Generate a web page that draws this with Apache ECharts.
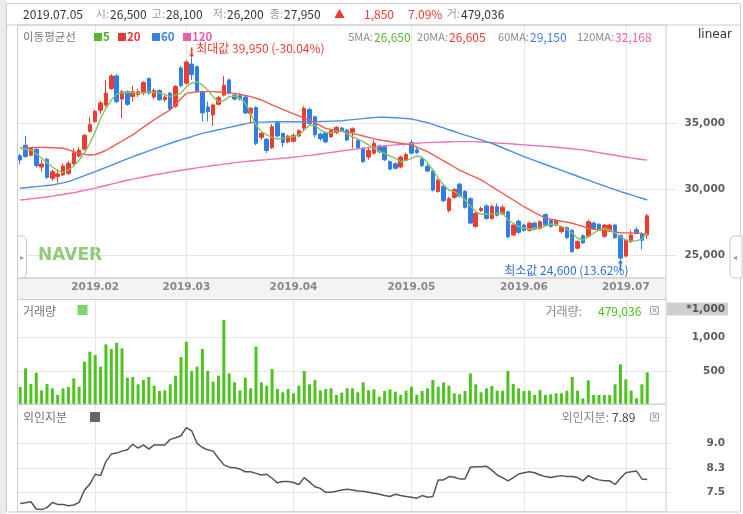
<!DOCTYPE html>
<html><head><meta charset="utf-8">
<script src="https://cdn.jsdelivr.net/npm/echarts@6/dist/echarts.min.js"></script>
<style>html,body{margin:0;padding:0;background:#fff}#c{width:743px;height:514px}</style>
</head><body><div id="c"></div>
<script>
// ---------------- DATA ----------------
const monthDays = [
  ['2019.01',[14,15,16,17,18,21,22,23,24,25,28,29,30,31]],
  ['2019.02',[1,7,8,11,12,13,14,15,18,19,20,21,22,25,26,27,28]],
  ['2019.03',[4,5,6,7,8,11,12,13,14,15,18,19,20,21,22,25,26,27,28,29]],
  ['2019.04',[1,2,3,4,5,8,9,10,11,12,15,16,17,18,19,22,23,24,25,26,29,30]],
  ['2019.05',[2,3,7,8,9,10,13,14,15,16,17,20,21,22,23,24,27,28,29,30,31]],
  ['2019.06',[3,4,5,7,10,11,12,13,14,17,18,19,20,21,24,25,26,27,28]],
  ['2019.07',[1,2,3,4,5]]
];
const monthLabels = ['2019.02','2019.03','2019.04','2019.05','2019.06','2019.07'];

const opens = [32500,33300,32550,33000,31650,32230,30800,30920,31050,31170,
 31900,32480,33000,34350,35100,35950,36350,37600,38550,36800,
 37350,37000,37150,37250,38350,36950,37450,36750,37250,36250,
 39150,38000,39450,39250,37350,36200,35600,36400,37100,38250,
 37100,37050,36950,35720,36150,33900,33750,33100,35000,34200,
 33550,33600,34000,34600,36000,35450,34150,34250,33950,34250,
 34600,34450,34300,33650,33050,32400,32700,33250,33200,32050,
 31900,31650,32200,33500,32950,32250,31700,31350,29800,30200,
 28350,29350,30350,29800,29250,27150,28350,28700,27750,28650,
 28100,28250,26500,27550,27250,26850,27400,27000,28050,27600,
 27250,26750,27050,26850,25500,26450,26400,27400,27300,26400,
 26900,27250,26450,24900,26000,26900,26600,26500];
const closes = [32180,32450,33050,31750,31880,30870,31300,31120,31730,31930,
 32730,32940,34050,34850,35850,36500,37250,38550,36600,37350,
 36400,37350,37350,38050,37250,37450,36750,36950,36050,37750,
 37800,39600,38650,37400,35750,35850,36350,36900,37850,37250,
 36800,36800,35750,36100,33450,34200,32900,34700,34000,33500,
 34000,34050,34400,36100,34950,34100,33800,33550,34400,34650,
 34400,33700,34550,33100,32050,32900,33450,32800,32200,31500,
 31550,32400,32600,32700,32750,31750,31350,29900,30650,29100,
 29250,29950,29450,28600,27400,28150,28500,27750,28650,28000,
 28600,26350,27250,26700,26850,27400,26950,27500,27250,27150,
 27600,27100,26300,25250,26000,25900,27500,27000,26900,27250,
 27250,26300,24750,26100,26500,26600,26100,27950];
const lows = [31880,32350,32450,31600,31300,30750,30600,30460,30950,31050,
 31800,32350,32900,34250,35000,35650,36200,37500,36500,35350,
 36300,36600,36950,37100,37150,36800,36650,36600,35900,36150,
 37700,37900,38250,37300,35100,35100,34750,36300,37000,37150,
 36700,36700,35650,35000,33300,33700,32700,33000,33900,33150,
 33450,33500,33900,34450,34850,33900,33650,33450,33850,34150,
 34300,33600,33050,33000,31950,32200,32600,32700,32100,31400,
 31450,31550,32100,32600,32650,31650,31250,29800,29700,29000,
 28200,29250,29350,28500,27300,27050,28250,27650,27650,27900,
 28000,26250,26400,26600,26750,26750,26850,26900,27150,27050,
 27150,26650,26200,25150,25400,25800,26300,26900,26800,26300,
 26800,26200,24600,24800,25900,26550,25400,26200];
const highs = [32650,34000,33150,33100,32180,32350,31450,31480,31900,32100,
 33050,33150,34150,35450,36000,36650,38250,38700,38700,37500,
 37450,37800,37600,38150,38450,37600,37550,37100,37350,37850,
 39300,39750,39950,39350,37450,36600,36450,37050,38550,38350,
 37200,37150,37050,36200,36250,34300,33850,34900,35100,34250,
 34100,34200,34500,36250,36150,35550,34250,34350,34500,34750,
 34700,34550,34650,33750,33150,33200,33700,33350,33300,32150,
 32000,32500,32750,33700,33150,32350,31900,31450,30750,30300,
 29400,30050,30450,29900,29350,28250,28650,28850,28800,28900,
 28750,28350,27350,27650,27350,27500,27500,27600,28150,27700,
 27700,27200,27150,26950,26100,26550,27650,27500,27400,27350,
 27350,27350,26550,26200,26850,27100,26700,28100];

const ma5 = [33070,33000,32940,32650,32310,31980,31670,31370,31220,31420,
 31730,32180,32690,33450,34330,35340,36100,36730,37160,37310,
 37300,37280,37250,37300,37350,37300,37250,37150,36980,37100,
 37230,37740,38000,38110,37860,37490,36980,36600,36670,36980,
 37030,36860,36480,35720,34830,34330,34080,33900,33770,33830,
 33900,33950,34080,34450,34810,34810,34450,34250,34250,34330,
 34380,34150,33930,33770,33570,33320,33070,32860,32690,32480,
 32310,32050,32130,32310,32480,32390,31980,31420,30800,30290,
 29910,29780,29530,29150,28700,28270,28070,28070,28090,28140,
 28170,27640,27390,27130,27010,26930,27010,27050,27180,27310,
 27310,27130,26930,26630,26250,26120,26370,26630,26880,27010,
 26880,26670,26370,26120,26070,26050,26200,26650];
const ma20 = [33070,33100,33120,33140,33140,33130,33110,33090,33070,32950,
 32810,32700,32610,32560,32600,32730,32920,33140,33380,33620,
 33850,34080,34380,34670,34960,35230,35480,35730,35970,36400,
 36820,37230,37300,37340,37360,37370,37360,37330,37300,37270,
 37230,37160,37070,36980,36860,36730,36550,36350,36180,36010,
 35840,35680,35520,35360,35210,35000,34790,34580,34500,34430,
 34350,34280,34200,34100,34000,33900,33800,33700,33640,33580,
 33510,33450,33380,33320,33150,32980,32810,32580,32350,32110,
 31880,31650,31420,31230,31040,30860,30670,30420,30160,29910,
 29660,29400,29150,28890,28640,28420,28200,27990,27770,27700,
 27620,27540,27470,27390,27260,27140,27010,26950,26890,26840,
 26780,26720,26670,26660,26650,26640,26620,26605];
const ma60 = [30040,30080,30120,30160,30200,30250,30290,30370,30450,30540,
 30690,30840,30990,31150,31300,31460,31620,31780,31940,32110,
 32270,32430,32580,32720,32870,33020,33160,33310,33450,33580,
 33700,33830,33950,34080,34200,34290,34380,34470,34560,34650,
 34740,34830,34920,35010,35030,35050,35060,35080,35080,35080,
 35080,35080,35080,35080,35080,35090,35100,35110,35130,35140,
 35160,35200,35240,35280,35320,35360,35390,35420,35420,35400,
 35380,35350,35320,35290,35200,35100,35010,34880,34740,34610,
 34470,34340,34200,34070,33950,33820,33700,33570,33450,33280,
 33110,32940,32770,32600,32430,32280,32130,31990,31840,31690,
 31540,31400,31250,31100,30950,30800,30650,30510,30360,30220,
 30070,29930,29780,29660,29540,29410,29280,29150];
const ma120 = [29150,29190,29240,29280,29330,29380,29440,29510,29570,29640,
 29700,29790,29880,29960,30050,30150,30250,30350,30450,30550,
 30650,30730,30810,30890,30970,31050,31120,31190,31260,31330,
 31400,31460,31520,31580,31640,31700,31760,31810,31870,31920,
 31980,32020,32060,32100,32140,32180,32210,32250,32280,32320,
 32350,32400,32440,32490,32530,32580,32640,32700,32750,32810,
 32870,32920,32970,33020,33070,33120,33160,33200,33250,33290,
 33330,33360,33390,33420,33450,33480,33500,33520,33530,33550,
 33560,33570,33570,33570,33570,33570,33550,33520,33500,33470,
 33450,33420,33390,33360,33330,33300,33270,33240,33210,33180,
 33150,33110,33070,33030,32990,32950,32880,32810,32740,32670,
 32600,32540,32470,32410,32340,32280,32220,32168];

// volume in thousands of shares
const volK = [260,540,305,475,210,305,240,140,240,260,
 390,260,640,790,740,565,900,830,925,840,
 400,410,300,365,410,280,200,210,300,430,
 710,940,500,565,830,500,340,430,1265,465,
 330,210,400,240,865,330,280,530,230,180,
 230,165,280,500,300,365,210,230,240,140,
 175,240,240,180,330,210,225,115,200,225,
 190,140,205,265,140,200,240,365,265,330,
 280,165,150,200,465,300,180,240,275,205,
 205,500,305,240,200,205,140,215,140,150,
 165,165,205,410,205,90,360,140,140,140,
 140,300,600,375,205,90,300,479.036];
const foreign = [7.16,7.18,7.21,6.99,6.97,7.03,7.19,7.13,7.13,7.09,
 7.11,7.19,7.57,7.75,8.05,8.01,8.44,8.67,8.70,8.76,
 8.80,8.97,8.85,8.95,8.82,8.95,8.95,8.95,9.12,9.17,
 9.23,9.48,9.38,9.00,8.87,8.80,8.76,8.54,8.34,8.27,
 8.25,8.21,8.13,8.13,8.08,8.03,8.05,7.93,7.79,7.83,
 7.83,7.80,7.74,7.95,7.81,7.67,7.62,7.50,7.50,7.53,
 7.57,7.59,7.57,7.54,7.53,7.50,7.47,7.44,7.40,7.37,
 7.44,7.40,7.37,7.35,7.32,7.40,7.35,7.37,7.88,7.88,
 7.98,7.96,7.91,7.91,8.27,8.28,8.28,8.30,8.18,8.03,
 7.95,7.85,7.95,8.06,8.10,8.13,8.10,8.03,7.98,7.95,
 7.98,8.01,7.98,7.98,7.95,7.85,8.01,7.93,7.88,7.85,
 7.85,7.74,7.93,8.10,8.13,8.15,7.91,7.89];

const priceTicks = [25000,30000,35000];
const volTicks = [500,1000];
const foreignTicks = [7.5,8.25,9.0];

// ---------------- BUILD ----------------
const dates = [];
monthDays.forEach(([m,ds])=>ds.forEach(d=>dates.push(m+'.'+String(d).padStart(2,'0'))));
const cats = dates.concat(['',' ','  ']);
const monthIdx = monthLabels.map(m=>dates.findIndex(d=>d.indexOf(m)===0));

const RED='#ec3b30', BLUE='#2f7ee6';
const C5='#86c25a', C20='#ee5b50', C60='#4a8ee6', C120='#f070b2';
const KF='"Noto Sans CJK KR","Noto Sans",sans-serif';
const NF='"DejaVu Sans",sans-serif';
const fmt = v => Math.round(v).toLocaleString('en-US');

const n = dates.length, last = n-1;
let maxIdx=0, minIdx=0;
highs.forEach((h,i)=>{ if(h>highs[maxIdx]) maxIdx=i; });
lows.forEach((l,i)=>{ if(l<lows[minIdx]) minIdx=i; });
const lastC = closes[last], prevC = closes[last-1];
const chg = lastC - prevC, chgPct = (chg/prevC*100).toFixed(2);
const maxTxt = '최대값 ' + fmt(highs[maxIdx]) + ' (' + ((lastC/highs[maxIdx]-1)*100).toFixed(2) + '%)';
const minTxt = '최소값 ' + fmt(lows[minIdx]) + ' (' + ((lastC/lows[minIdx]-1)*100).toFixed(2) + '%)';
const lastVol = fmt(volK[last]*1000);

const candleData = dates.map((d,i)=>[opens[i], closes[i], lows[i], highs[i]]);

function mkX(gi, lab){
  return {type:'category', gridIndex:gi, data:cats, boundaryGap:true,
    axisLine:{show:false}, axisTick:{show:false}, splitLine:{show:false},
    axisLabel: lab ? {show:true, interval:(i)=>monthIdx.indexOf(i)>=0, formatter:v=>v.slice(0,7),
      color:'#888', fontWeight:'bold', fontSize:10.5, fontFamily:NF, margin:4} : {show:false}};
}
function mkY(gi, min, max, ticks, fmtf, tickLen){
  return {type:'value', gridIndex:gi, position:'right', min:min, max:max,
    axisLine:{show:false},
    axisTick:{show:true, customValues:ticks, length:tickLen, lineStyle:{color:'#e2e2e2'}},
    axisLabel:{show:true, customValues:ticks, formatter:fmtf, color:'#5e5e5e', fontWeight:'bold',
      fontSize:10.5, fontFamily:NF, align:'right', margin:59, padding:[6,0,0,0]},
    splitLine:{show:true, lineStyle:{color:'#e6e6e6', width:1}}};
}
function gridLines(gi){
  return {type:'line', xAxisIndex:gi, yAxisIndex:gi, data:cats.map(()=>null), silent:true, z:1,
    showSymbol:false, lineStyle:{opacity:0},
    markLine:{z:1, silent:true, animation:false, symbol:['none','none'], label:{show:false},
      lineStyle:{color:'#e6e6e6', width:1, type:'solid'},
      data: monthIdx.map(i=>({xAxis: cats[i]}))}};
}
function maLine(data, color){
  return {type:'line', xAxisIndex:0, yAxisIndex:0, data:data, showSymbol:false, symbol:'none',
    smooth:false, silent:true, z:3, lineStyle:{color:color, width:1.4}};
}

function T(x,y,text,fill,size,weight,family,align){
  return {type:'text', x:x, y:y, z:100, silent:true,
    style:{text:text, fill:fill, font:(weight||'normal')+' '+(size||12)+'px '+(family||KF),
      align:align||'left', verticalAlign:'middle'}};
}
function R(x,y,w,h,fill,stroke,z,r){
  return {type:'rect', z:z||0, silent:true, shape:{x:x,y:y,width:w,height:h,r:r||0},
    style:{fill:fill||'none', stroke:stroke||'none', lineWidth:1}};
}

const hy = 14;
const graphics = [
  R(0,0,6,514,'#ebebeb',null,0),
  R(6.5,3.5,734,508.5,null,'#cdcdcd',60),
  R(17.5,278,648.5,21.5,'#f3f3f3','#cfcfcf',0),
  R(17.5,25,648.5,253,null,'#cdcdcd',60),
  R(17.5,299.5,648.5,104.8,null,'#cdcdcd',60),
  R(17.5,404.3,648.5,107.4,null,'#cdcdcd',60),
  {type:'line', z:60, silent:true, shape:{x1:6.5,y1:25,x2:740.5,y2:25}, style:{stroke:'#cdcdcd',lineWidth:1}},
  // header
  T(23,hy,dates[last],'#333',12),
  T(109,hy,'시:','#999',11,'normal',KF,'right'), T(110,hy,fmt(opens[last]),'#333',12),
  T(165,hy,'고:','#999',11,'normal',KF,'right'), T(166,hy,fmt(highs[last]),'#333',12),
  T(226,hy,'저:','#999',11,'normal',KF,'right'), T(227,hy,fmt(lows[last]),'#333',12),
  T(283,hy,'종:','#999',11,'normal',KF,'right'), T(284,hy,fmt(lastC),'#333',12),
  T(334,hy,chg>=0?'▲':'▼',RED,11),
  T(364,hy,fmt(Math.abs(chg)),RED,12),
  T(408,hy,chgPct+'%',RED,12),
  T(460,hy,'거:','#999',11,'normal',KF,'right'), T(461,hy,lastVol,'#333',12),
  // MA legend row
  T(23,37,'이동평균선','#777',11.5),
  R(94,33,8,8,'#5cb531',null,100), T(103,37,'5','#4ea82a',11.5,'bold'),
  R(118,33,8,8,'#e53935',null,100), T(127,37,'20','#e53935',11.5,'bold'),
  R(152,33,8,8,'#3a7fe0',null,100), T(161,37,'60','#3a7fe0',11.5,'bold'),
  R(183,33,8,8,'#f25ca8',null,100), T(192,37,'120','#f25ca8',11.5,'bold'),
  T(373,37,'5MA:','#8a8a8a',11,'normal',KF,'right'), T(374,37,fmt(ma5[last]),'#5cb531',12),
  T(448,37,'20MA:','#8a8a8a',11,'normal',KF,'right'), T(449,37,fmt(ma20[last]),'#e53935',12),
  T(529,37,'60MA:','#8a8a8a',11,'normal',KF,'right'), T(530,37,fmt(ma60[last]),'#3a7fe0',12),
  T(614,37,'120MA:','#8a8a8a',11,'normal',KF,'right'), T(615,37,fmt(ma120[last]),'#f25ca8',12),
  T(698,35,'linear','#333',12,'normal',NF),
  // watermark
  {type:'text', x:38, y:256, z:1, silent:true, style:{text:'NAVER', fill:'#93c97a', font:'bold 17px '+NF, align:'left', verticalAlign:'middle'}},
  // tabs
  R(17.5,236,9,42,'#fff','#c8c8c8',70,[0,5,5,0]), T(22,258,'▸','#999',8,'normal',NF,'center'),
  R(730,236,12,42,'#fff','#c8c8c8',70,[5,0,0,5]), T(735,258,'◂','#999',8,'normal',NF,'center'),
  // volume panel
  T(23,311,'거래량','#777',12),
  R(77.5,305,10,10,'#7ed56a',null,100),
  T(582,311,'거래량:','#8a8a8a',12,'normal',KF,'right'), T(598,311,lastVol,'#45c01a',12),
  R(650.5,306.5,8,8,'#f8f8f8','#aaa',100), T(654.5,310.5,'×','#888',8,'normal',NF,'center'),
  R(667,302.5,61,13,'#cfcfcf',null,50), T(725,309.5,'*1,000','#555',10.5,'bold',NF,'right'),
  // foreign panel
  T(23,417,'외인지분','#777',12),
  R(90,412,10,10,'#666',null,100),
  T(609,417,'외인지분:','#8a8a8a',12,'normal',KF,'right'), T(612,417,foreign[last].toFixed(2),'#444',12),
  R(650.5,413,8,8,'#f8f8f8','#aaa',100), T(654.5,417,'×','#888',8,'normal',NF,'center')
];

const option = {
  animation:false,
  backgroundColor:'#fff',
  grid:[
    {left:17.5, top:25, width:648.5, height:253},
    {left:17.5, top:299.5, width:648.5, height:104.8},
    {left:17.5, top:405, width:648.5, height:106.7}
  ],
  xAxis:[mkX(0,true), mkX(1,false), mkX(2,false)],
  yAxis:[
    mkY(0, 23240, 42410, priceTicks, v=>fmt(v), 10),
    mkY(1, 0, 1573.6, volTicks, v=>fmt(v), 4),
    mkY(2, 6.906, 10.172, foreignTicks, v=>v.toFixed(1), 4)
  ],
  series:[
    gridLines(0), gridLines(1), gridLines(2),
    {type:'candlestick', xAxisIndex:0, yAxisIndex:0, data:candleData, barWidth:4, silent:true, z:2,
      itemStyle:{color:RED, color0:BLUE, borderColor:RED, borderColor0:BLUE, borderWidth:1},
      markPoint:{silent:true, animation:false, data:[
        {coord:[cats[maxIdx], highs[maxIdx]], symbol:'path://M2,0 L4,0 L4,9 L6,9 L3,13 L0,9 L2,9 Z',
          symbolSize:[5,10], symbolOffset:[0,'-50%'], itemStyle:{color:RED}, label:{show:false}},
        {coord:[cats[maxIdx], highs[maxIdx]], symbol:'circle', symbolSize:0,
          label:{show:true, position:'inside', align:'left', verticalAlign:'middle', offset:[4.5,-9.5],
            formatter:maxTxt, color:RED, fontSize:12, fontFamily:KF}},
        {coord:[cats[minIdx], lows[minIdx]], symbol:'path://M3,0 L6,4 L4,4 L4,13 L2,13 L2,4 L0,4 Z',
          symbolSize:[5,10], symbolOffset:[0,'50%'], itemStyle:{color:'#2f6fd6'}, label:{show:false}},
        {coord:[cats[minIdx], lows[minIdx]], symbol:'circle', symbolSize:0,
          label:{show:true, position:'inside', align:'right', verticalAlign:'middle', offset:[8,10.5],
            formatter:minTxt, color:'#2f6fd6', fontSize:12, fontFamily:KF}}
      ]}},
    maLine(ma120, C120), maLine(ma60, C60), maLine(ma20, C20), maLine(ma5, C5),
    {type:'bar', xAxisIndex:1, yAxisIndex:1, data:volK, barWidth:3, silent:true, z:2,
      itemStyle:{color:'#4cc31f'}},
    {type:'line', xAxisIndex:2, yAxisIndex:2, data:foreign, showSymbol:false, symbol:'none', silent:true, z:2,
      lineStyle:{color:'#555', width:1.5}}
  ],
  graphic:{elements:graphics}
};

const chart = echarts.init(document.getElementById('c'), null, {renderer:'canvas'});
chart.setOption(option);
</script>
</body></html>
